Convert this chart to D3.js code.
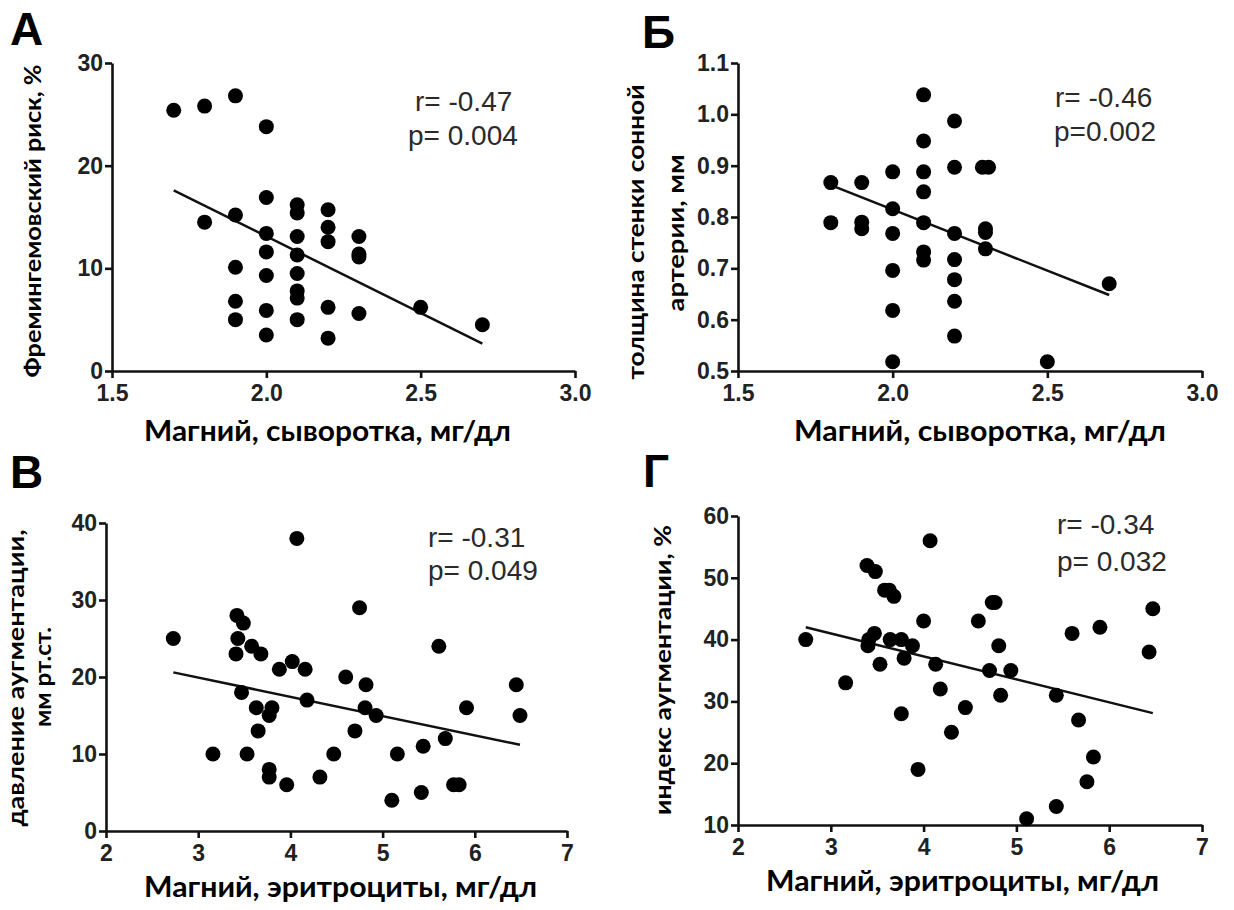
<!DOCTYPE html>
<html>
<head>
<meta charset="utf-8">
<script src="https://d3js.org/d3.v7.min.js"></script>
<style>
  body { margin: 0; background: #fff; }
  svg { display: block; }
</style>
</head>
<body>
<div id="chart"></div>
<script>
// panel А: Магний сыворотки vs Фремингемовский риск
var serumA = [1.7,1.8,1.9,2.0,1.8,1.9,1.9,1.9,1.9,2.0,2.0,2.0,2.0,2.0,2.0,2.1,2.1,2.1,2.1,2.1,2.1,2.1,2.1,2.2,2.2,2.2,2.2,2.2,2.3,2.3,2.3,2.3,2.5,2.7];
var riskA  = [25.4,25.8,26.8,23.8,14.5,15.2,10.1,6.8,5.0,16.9,13.4,11.6,9.3,5.9,3.5,16.2,15.4,13.1,11.3,9.5,7.8,7.1,5.0,15.7,14.0,12.6,6.2,3.2,13.1,11.4,11.1,5.6,6.2,4.5];
var fitXA = [1.7, 2.7], fitYA = [17.6, 2.66];

// panel Б: Магний сыворотки vs толщина стенки сонной артерии
var serumB = [1.8,1.8,1.9,1.9,1.9,2.0,2.0,2.0,2.0,2.0,2.0,2.1,2.1,2.1,2.1,2.1,2.1,2.1,2.2,2.2,2.2,2.2,2.2,2.2,2.2,2.29,2.31,2.3,2.3,2.3,2.5,2.7];
var imtB   = [0.867,0.789,0.867,0.790,0.777,0.888,0.816,0.768,0.696,0.618,0.518,1.038,0.948,0.888,0.849,0.789,0.732,0.716,0.987,0.897,0.768,0.717,0.678,0.636,0.568,0.897,0.897,0.777,0.770,0.738,0.518,0.670];
var fitXB = [1.8, 2.7], fitYB = [0.862, 0.648];

// panel В: Магний эритроцитов vs давление аугментации
var rbcC = [2.73,3.16,3.42,3.49,3.43,3.41,3.47,3.58,3.68,3.53,3.63,3.65,3.80,3.77,3.77,3.77,3.88,3.96,4.02,4.07,4.16,4.18,4.32,4.47,4.60,4.70,4.75,4.82,4.81,4.93,5.10,5.16,5.42,5.44,5.61,5.68,5.77,5.83,5.91,6.45,6.49];
var apC  = [25,10,28,27,25,23,18,24,23,10,16,13,16,15,8,7,21,6,22,38,21,17,7,10,20,13,29,19,16,15,4,10,5,11,24,12,6,6,16,19,15];
var fitXC = [2.73, 6.49], fitYC = [20.6, 11.2];

// panel Г: Магний эритроцитов vs индекс аугментации
var rbcD = [2.73,3.16,3.39,3.48,3.58,3.63,3.68,3.47,3.41,3.40,3.53,3.64,3.76,3.88,3.79,3.76,3.94,4.00,4.07,4.13,4.18,4.30,4.45,4.59,4.71,4.74,4.77,4.81,4.83,4.94,5.11,5.43,5.43,5.60,5.67,5.76,5.83,5.90,6.43,6.47];
var aiD  = [40,33,52,51,48,48,47,41,40,39,36,40,40,39,37,28,19,43,56,36,32,25,29,43,35,46,46,39,31,35,11,31,13,41,27,17,21,42,38,45];
var fitXD = [2.73, 6.47], fitYD = [42.0, 28.1];

var ticksSerum = [1.5, 2.0, 2.5, 3.0];
var ticksRbc = [2, 3, 4, 5, 6, 7];

var panels = [
  { letter: "А", lx: 10, ly: 45, xs: serumA, ys: riskA, fx: fitXA, fy: fitYA,
    xDom: [1.5, 3], yDom: [0, 30], xR: [112, 575], yR: [371, 63],
    xTicks: ticksSerum, yTicks: [0, 10, 20, 30], xFmt: ".1f", yFmt: "d",
    xTitle: "Магний, сыворотка, мг/дл", xt: [144, 511, 441],
    yTitle: [["Фремингемовский риск, %", 41, 221, 313]],
    r: ["r= -0.47", 415, 111], p: ["p= 0.004", 408, 145] },
  { letter: "Б", lx: 642, ly: 48, xs: serumB, ys: imtB, fx: fitXB, fy: fitYB,
    xDom: [1.5, 3], yDom: [0.5, 1.1], xR: [738, 1202], yR: [371, 63],
    xTicks: ticksSerum, yTicks: [0.5, 0.6, 0.7, 0.8, 0.9, 1.0, 1.1], xFmt: ".1f", yFmt: ".1f",
    xTitle: "Магний, сыворотка, мг/дл", xt: [794, 1166, 441],
    yTitle: [["толщина стенки сонной", 644, 232, 295], ["артерии, мм", 684, 233, 157]],
    r: ["r= -0.46", 1055, 107], p: ["p=0.002", 1054, 141] },
  { letter: "В", lx: 10, ly: 488, xs: rbcC, ys: apC, fx: fitXC, fy: fitYC,
    xDom: [2, 7], yDom: [0, 40], xR: [106, 567], yR: [831, 523],
    xTicks: ticksRbc, yTicks: [0, 10, 20, 30, 40], xFmt: "d", yFmt: "d",
    xTitle: "Магний, эритроциты, мг/дл", xt: [144, 537, 897],
    yTitle: [["давление аугментации,", 24, 678, 297], ["мм рт.ст.", 51, 677, 100]],
    r: ["r= -0.31", 428, 547], p: ["p= 0.049", 428, 580] },
  { letter: "Г", lx: 643, ly: 487, xs: rbcD, ys: aiD, fx: fitXD, fy: fitYD,
    xDom: [2, 7], yDom: [10, 60], xR: [738, 1202], yR: [825, 516],
    xTicks: ticksRbc, yTicks: [10, 20, 30, 40, 50, 60], xFmt: "d", yFmt: "d",
    xTitle: "Магний, эритроциты, мг/дл", xt: [766, 1159, 891],
    yTitle: [["индекс аугментации, %", 671, 670, 290]],
    r: ["r= -0.34", 1057, 534], p: ["p= 0.032", 1057, 571] }
];

var svg = d3.select("#chart").append("svg")
    .attr("width", 1234)
    .attr("height", 910);

panels.forEach(function(pn) {
  var x = d3.scaleLinear().domain(pn.xDom).range(pn.xR);
  var y = d3.scaleLinear().domain(pn.yDom).range(pn.yR);

  var g = svg.append("g");

  // axes
  var xAxis = d3.axisBottom(x).tickValues(pn.xTicks).tickFormat(d3.format(pn.xFmt))
      .tickSizeInner(7).tickSizeOuter(0).tickPadding(7);
  var yAxis = d3.axisLeft(y).tickValues(pn.yTicks).tickFormat(d3.format(pn.yFmt))
      .tickSizeInner(7).tickSizeOuter(0).tickPadding(2);

  var gx = g.append("g")
      .attr("transform", "translate(0," + pn.yR[0] + ")")
      .call(xAxis);
  var gy = g.append("g")
      .attr("transform", "translate(" + pn.xR[0] + ",0)")
      .call(yAxis);

  [gx, gy].forEach(function(a) {
    a.select(".domain").attr("stroke", "#111").attr("stroke-width", 2.6);
    a.selectAll(".tick line").attr("stroke", "#111").attr("stroke-width", 2.6);
    a.selectAll(".tick text")
      .attr("font-family", "'Liberation Sans', Arial, sans-serif")
      .attr("font-weight", "bold")
      .attr("font-size", 23)
      .attr("fill", "#222");
  });

  // regression line
  var line = d3.line()
      .x(function(d) { return x(d[0]); })
      .y(function(d) { return y(d[1]); });
  g.append("path")
      .datum(d3.zip(pn.fx, pn.fy))
      .attr("fill", "none")
      .attr("stroke", "#111")
      .attr("stroke-width", 2.5)
      .attr("d", line);

  // points
  g.selectAll("circle.pt")
    .data(d3.zip(pn.xs, pn.ys))
    .enter().append("circle")
      .attr("class", "pt")
      .attr("cx", function(d) { return x(d[0]); })
      .attr("cy", function(d) { return y(d[1]); })
      .attr("r", 7.5)
      .attr("fill", "#000");

  // r / p annotation
  [pn.r, pn.p].forEach(function(t) {
    g.append("text")
      .attr("x", t[1]).attr("y", t[2])
      .attr("font-family", "'Liberation Sans', Arial, sans-serif")
      .attr("font-size", 28)
      .attr("fill", "#2a2a2a")
      .text(t[0]);
  });

  // x title
  g.append("text")
    .attr("x", pn.xt[0]).attr("y", pn.xt[2])
    .attr("font-family", "Lato, 'Open Sans', sans-serif")
    .attr("font-weight", "bold")
    .attr("font-size", 28)
    .attr("fill", "#000")
    .attr("textLength", pn.xt[1] - pn.xt[0])
    .attr("lengthAdjust", "spacingAndGlyphs")
    .text(pn.xTitle);

  // y title (rotated, one or two lines)
  pn.yTitle.forEach(function(t) {
    g.append("text")
      .attr("transform", "translate(" + t[1] + "," + t[2] + ") rotate(-90)")
      .attr("text-anchor", "middle")
      .attr("font-family", "Lato, 'Open Sans', sans-serif")
      .attr("font-weight", "bold")
      .attr("font-size", 23)
      .attr("fill", "#000")
      .attr("textLength", t[3])
      .attr("lengthAdjust", "spacingAndGlyphs")
      .text(t[0]);
  });

  // panel letter
  g.append("text")
    .attr("x", pn.lx).attr("y", pn.ly)
    .attr("font-family", "'Liberation Sans', Arial, sans-serif")
    .attr("font-weight", "bold")
    .attr("font-size", 46)
    .attr("fill", "#000")
    .text(pn.letter);
});
</script>
</body>
</html>
